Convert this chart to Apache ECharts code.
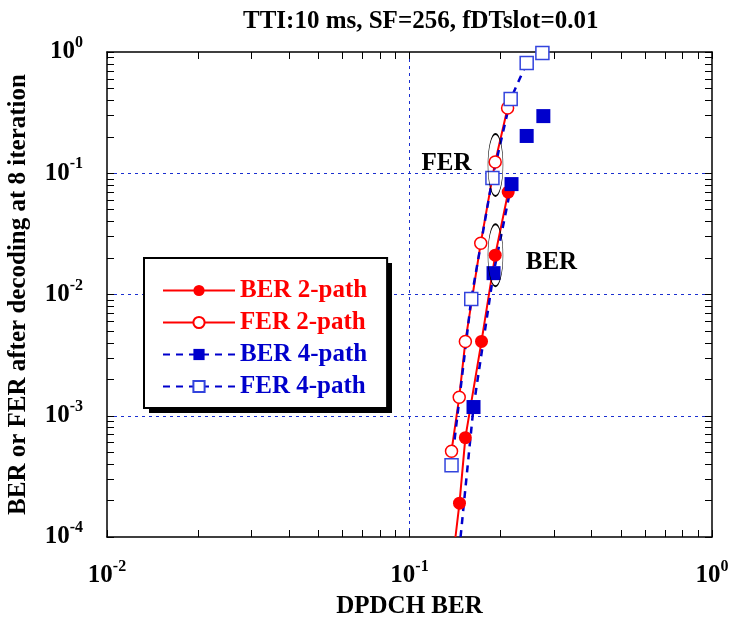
<!DOCTYPE html>
<html lang="en">
<head>
<meta charset="UTF-8">
<title>DPDCH BER</title>
<script src="https://cdn.jsdelivr.net/npm/echarts@6/dist/echarts.min.js"></script>
<style>
  html, body { margin: 0; padding: 0; background: #fff; }
  #box { width: 731px; height: 620px; }
</style>
</head>
<body>
<div id="box"></div>
<script>
// data
var ber2Tail = [0.1419, 1e-4];
var ber2X = [0.1463, 0.153, 0.173, 0.192, 0.212];
var ber2Y = [1.9e-4, 6.6e-4, 4.1e-3, 0.0211, 0.07];

var fer2X = [0.1377, 0.146, 0.153, 0.172, 0.192, 0.211];
var fer2Y = [5.1e-4, 1.42e-3, 4.1e-3, 0.0265, 0.124, 0.345];

var ber4Tail = [0.1475, 1e-4];
var ber4X = [0.1628, 0.1896, 0.2174, 0.244, 0.277];
var ber4Y = [1.18e-3, 0.015, 0.0814, 0.203, 0.296];
var ber4Joined = 3;

var fer4X = [0.1377, 0.160, 0.188, 0.216, 0.244, 0.275];
var fer4Y = [3.9e-4, 9.2e-3, 0.0912, 0.41, 0.81, 0.98];
var fer4Joined = 5;

// ellipses and labels
var ringX = [0.1924, 0.1924];
var ringY = [0.117, 0.0211];
var noteText = ['FER', 'BER'];
var noteX = [0.1326, 0.2946];
var noteY = [0.121, 0.0185];

// tick labels (exponents)
var xExp = ['-2', '-1', '0'];
var yExp = ['-4', '-3', '-2', '-1', '0'];
var mult = [1, 2, 3, 4, 5, 6, 7, 8, 9];

var FONT = "'Liberation Serif', 'Times New Roman', serif";
var RED = '#ff0000';
var BLUE = '#0000cc';

function tickVals(lo, hi) {
    var out = [];
    for (var e = lo; e < hi; e++)
        for (var i = 0; i < mult.length; i++)
            out.push(mult[i] * Math.pow(10, e));
    out.push(Math.pow(10, hi));
    return out;
}

function powLabel(exps, lo) {
    return function (v) {
        var e = Math.round(Math.log(v) / Math.LN10);
        return '{b|10}{s|' + exps[e - lo] + '}';
    };
}

var richLab = {
    b: { fontFamily: FONT, fontWeight: 'bold', fontSize: 25, color: '#000', lineHeight: 34 },
    s: { fontFamily: FONT, fontWeight: 'bold', fontSize: 16, color: '#000', verticalAlign: 'top', lineHeight: 16 }
};

// points after "joined" are drawn as loose markers, not on the fitted line
function buildData(tail, xs, ys, joined) {
    var d = [];
    if (tail) d.push({ value: tail, symbol: 'none' });
    for (var i = 0; i < xs.length; i++) {
        if (i >= joined) d.push(['-', '-']);
        d.push([xs[i], ys[i]]);
    }
    return d;
}

var frame = { show: true, lineStyle: { color: '#000', width: 1.5 } };
var noLine = { show: false };
var gridDash = { show: true, showMinLine: false, showMaxLine: false,
    lineStyle: { color: '#1a2fd0', type: [3, 4], width: 1 } };

function tickAxis(pos, lo, hi, extra) {
    var a = {
        type: 'log', logBase: 10, min: Math.pow(10, lo), max: Math.pow(10, hi), position: pos,
        axisLine: frame,
        axisTick: { show: true, inside: true, length: 7, customValues: tickVals(lo, hi), lineStyle: { color: '#000' } },
        axisLabel: { show: false },
        splitLine: { show: false }
    };
    for (var k in extra) a[k] = extra[k];
    return a;
}

// an axis that only draws the dashed grid at the decades
function gridAxis(pos, lo, hi) {
    return {
        type: 'log', logBase: 10, min: Math.pow(10, lo), max: Math.pow(10, hi), position: pos,
        axisLine: noLine, axisTick: noLine, axisLabel: { show: false },
        splitLine: gridDash
    };
}

var myChart = echarts.init(document.getElementById('box'));

var option = {
    animation: false,
    backgroundColor: '#fff',
    title: {
        text: 'TTI:10 ms, SF=256, fDTslot=0.01',
        left: 238,
        top: 4,
        textStyle: { fontFamily: FONT, fontWeight: 'bold', fontSize: 25, color: '#000' }
    },
    grid: { left: 107, right: 19, top: 52, bottom: 83, outerBoundsMode: 'none' },
    // legend drop shadow
    graphic: [{
        type: 'rect', left: 149, top: 263, z: 3,
        shape: { width: 243, height: 150 },
        style: { fill: '#000' }
    }],
    legend: {
        orient: 'vertical',
        left: 144,
        top: 258,
        padding: [20, 20, 9, 18],
        itemGap: 7,
        itemWidth: 72,
        itemHeight: 14,
        backgroundColor: '#fff',
        borderColor: '#000',
        borderWidth: 2,
        borderRadius: 0,
        z: 4,
        textStyle: { fontFamily: FONT, fontWeight: 'bold', fontSize: 25 },
        data: [
            { name: 'BER 2-path', textStyle: { color: RED } },
            { name: 'FER 2-path', textStyle: { color: RED } },
            { name: 'BER 4-path', textStyle: { color: BLUE } },
            { name: 'FER 4-path', textStyle: { color: BLUE } }
        ]
    },
    xAxis: [
        tickAxis('bottom', -2, 0, {
            name: 'DPDCH BER', nameLocation: 'middle', nameGap: 57,
            nameTextStyle: { fontFamily: FONT, fontWeight: 'bold', fontSize: 25, color: '#000' },
            axisLabel: { margin: 22, formatter: powLabel(xExp, -2), rich: richLab }
        }),
        tickAxis('top', -2, 0, {}),
        gridAxis('bottom', -2, 0)
    ],
    yAxis: [
        tickAxis('left', -4, 0, {
            name: 'BER or FER after decoding at 8 iteration', nameLocation: 'middle', nameGap: 76,
            nameTextStyle: { fontFamily: FONT, fontWeight: 'bold', fontSize: 25, color: '#000' },
            axisLabel: { margin: 24, formatter: powLabel(yExp, -4), rich: richLab }
        }),
        tickAxis('right', -4, 0, {}),
        gridAxis('left', -4, 0)
    ],
    series: [{
        name: 'BER 2-path', type: 'line',
        data: buildData(ber2Tail, ber2X, ber2Y, ber2X.length),
        symbol: 'circle', symbolSize: 13,
        lineStyle: { color: RED, width: 2 },
        itemStyle: { color: RED }
    }, {
        name: 'FER 2-path', type: 'line',
        data: buildData(null, fer2X, fer2Y, fer2X.length),
        symbol: 'circle', symbolSize: 12,
        lineStyle: { color: RED, width: 2 },
        itemStyle: { color: '#fff', borderColor: RED, borderWidth: 1.5 }
    }, {
        name: 'BER 4-path', type: 'line',
        data: buildData(ber4Tail, ber4X, ber4Y, ber4Joined),
        symbol: 'rect', symbolSize: 14,
        lineStyle: { color: BLUE, width: 2.5, type: [7, 6] },
        itemStyle: { color: BLUE }
    }, {
        name: 'FER 4-path', type: 'line',
        data: buildData(null, fer4X, fer4Y, fer4Joined),
        symbol: 'rect', symbolSize: 13,
        lineStyle: { color: BLUE, width: 2.5, type: [7, 6] },
        itemStyle: { color: '#fff', borderColor: '#3344dd', borderWidth: 1.5 }
    }, {
        name: 'rings', type: 'scatter',
        data: ringX.map(function (x, i) { return [x, ringY[i]]; }),
        symbol: 'path://M0,31 A7.5,31 0 1,1 15,31 A7.5,31 0 1,1 0,31 Z',
        symbolSize: [15, 62],
        itemStyle: { color: 'rgba(0,0,0,0)', borderColor: '#000', borderWidth: 1, opacity: 1 },
        z: 5
    }, {
        name: 'notes', type: 'scatter',
        data: noteX.map(function (x, i) { return { name: noteText[i], value: [x, noteY[i]] }; }),
        symbolSize: 0,
        itemStyle: { opacity: 1 },
        label: {
            show: true, position: 'inside', formatter: '{b}',
            fontFamily: FONT, fontWeight: 'bold', fontSize: 25, color: '#000'
        },
        z: 6
    }]
};

myChart.setOption(option);
</script>
</body>
</html>
